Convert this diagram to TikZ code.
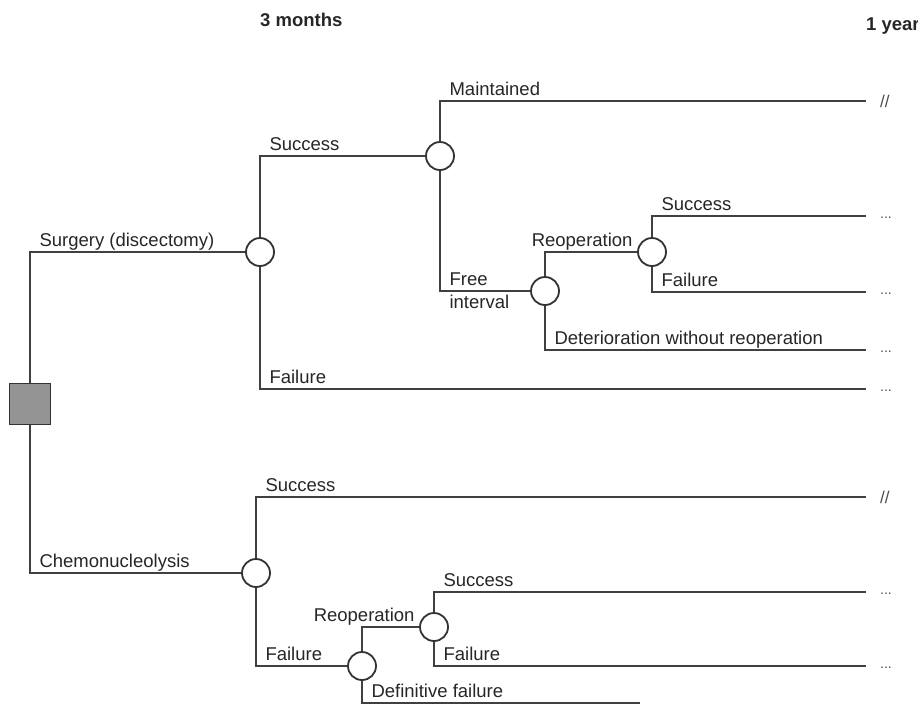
\documentclass[tikz,border=0pt]{standalone}
\usepackage{fontspec}
\setmainfont{Liberation Sans}
\begin{document}
\begin{tikzpicture}[x=1pt,y=-1pt,
  font=\fontsize{18.5}{23}\selectfont,
  branch/.style={line width=1.1pt,draw=black!75},
  chance/.style={circle,draw=black!80,line width=1.8pt,fill=white,minimum size=28pt,inner sep=0pt},
  decision/.style={rectangle,draw=black!80,line width=1pt,fill=black!42,minimum size=41pt,inner sep=0pt},
  lbl/.style={pos=0.5,anchor=base west,inner sep=0pt,xshift=9pt,yshift=6pt,text=black!85},
  lblr/.style={pos=1,anchor=base east,inner sep=0pt,xshift=-4pt,yshift=6pt,text=black!85},
  tail/.style={anchor=west,inner xsep=14pt,inner ysep=0pt,text=black!70,font=\fontsize{14}{16}\selectfont},
  dots/.style={tail,text height=5pt,text depth=0pt},
  cut/.style={tail,font=\fontsize{17}{20}\selectfont},
  hdr/.style={anchor=base west,inner sep=0pt,text=black!85,font=\fontsize{18.5}{23}\selectfont\bfseries}]
\useasboundingbox (0,0) rectangle (918,705);
\node[hdr] (h1) at (260,26) {3 months};
\node[hdr] (h2) at (866,30) {1 year};
\node[decision] (dec) at (30,404) {};
\node[chance] (s1) at (260,252) {};
\node[chance] (m) at (440,156) {};
\node[chance] (fi) at (545,291) {};
\node[chance] (r1) at (652,252) {};
\node[chance] (c1) at (256,573) {};
\node[chance] (df) at (362,666) {};
\node[chance] (r2) at (434,627) {};
% outcomes at 1 year
\node[cut] (e1) at (866,101) {//};
\node[dots] (e2) at (866,216) {...};
\node[dots] (e3) at (866,292) {...};
\node[dots] (e4) at (866,350) {...};
\node[dots] (e5) at (866,389) {...};
\node[cut] (e6) at (866,497) {//};
\node[dots] (e7) at (866,592) {...};
\node[dots] (e8) at (866,666) {...};
\coordinate (e9) at (640,703);
% surgery
\draw[branch] (dec.north) |- node[lbl]{Surgery (discectomy)} (s1.west);
\draw[branch] (s1.north) |- node[lbl]{Success} (m.west);
\draw[branch] (s1.south) |- node[lbl]{Failure} (e5.west);
\draw[branch] (m.north) |- node[lbl]{Maintained} (e1.west);
\draw[branch] (m.south) |- node[pos=0.5,anchor=west,align=left,inner sep=0pt,xshift=9pt,text=black!85]{Free\\interval} (fi.west);
\draw[branch] (fi.north) |- node[lblr]{Reoperation} (r1.west);
\draw[branch] (fi.south) |- node[lbl]{Deterioration without reoperation} (e4.west);
\draw[branch] (r1.north) |- node[lbl]{Success} (e2.west);
\draw[branch] (r1.south) |- node[lbl]{Failure} (e3.west);
% chemonucleolysis
\draw[branch] (dec.south) |- node[lbl]{Chemonucleolysis} (c1.west);
\draw[branch] (c1.north) |- node[lbl]{Success} (e6.west);
\draw[branch] (c1.south) |- node[lbl]{Failure} (df.west);
\draw[branch] (df.north) |- node[lblr]{Reoperation} (r2.west);
\draw[branch] (df.south) |- node[lbl]{Definitive failure} (e9);
\draw[branch] (r2.north) |- node[lbl]{Success} (e7.west);
\draw[branch] (r2.south) |- node[lbl]{Failure} (e8.west);
\end{tikzpicture}
\end{document}
